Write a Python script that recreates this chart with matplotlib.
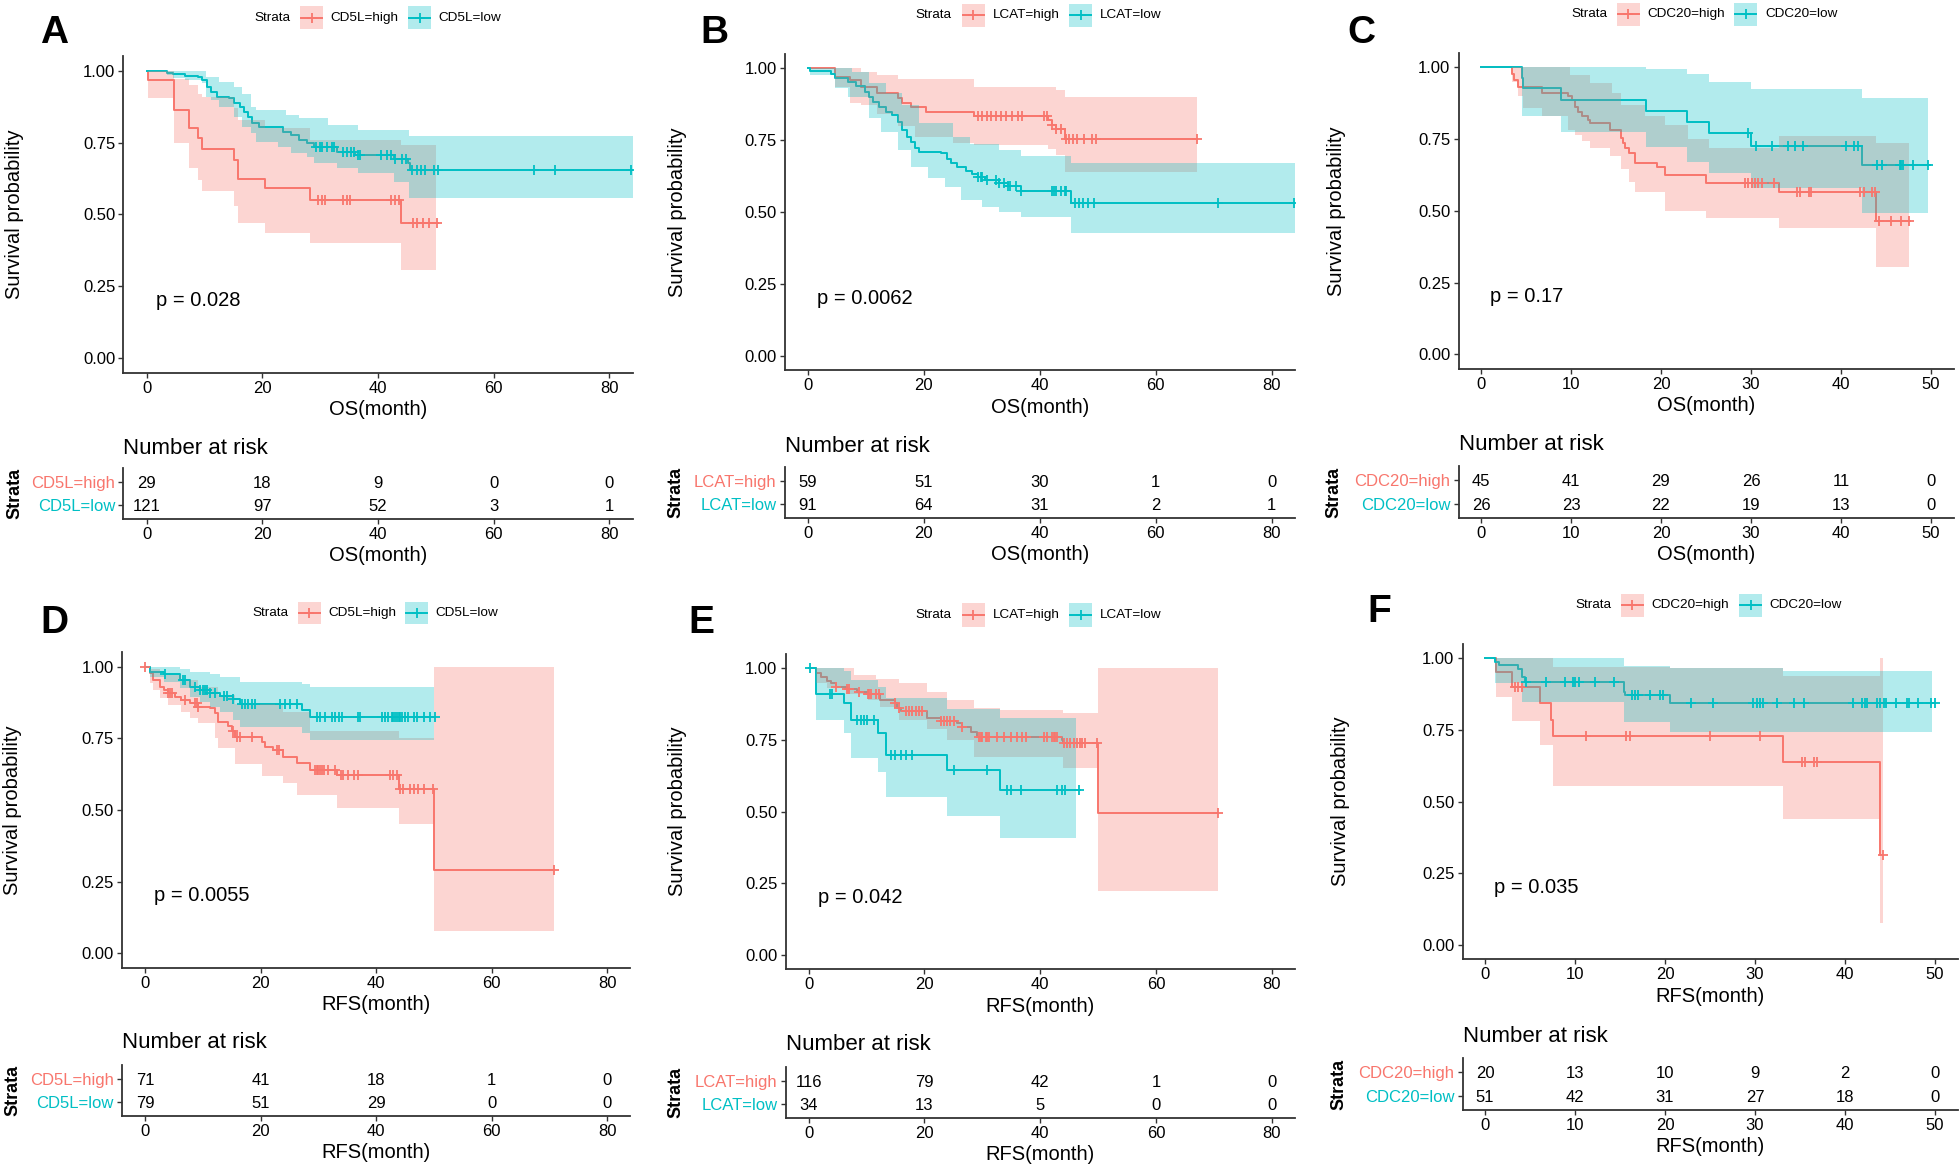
import numpy as np
import matplotlib
matplotlib.use('Agg')
import matplotlib.pyplot as plt
from matplotlib.patches import Rectangle

plt.rcParams['font.family'] = ['Liberation Sans', 'DejaVu Sans']

# ------------------------------------------------------------------ data
# ---- Panel A (OS, CD5L)
A_strata = ['CD5L=high', 'CD5L=low']
A_pval = 'p = 0.028'
A_xlabel = 'OS(month)'
A_hi_t = [0, 0.3, 4.7, 7.4, 8.9, 9.5, 15.1, 15.8, 20.5, 28.3, 44.0]
A_hi_s = [1.0, 0.966, 0.862, 0.800, 0.765, 0.728, 0.690, 0.623, 0.591, 0.550, 0.472]
A_hi_end = 50.3
A_hi_cens = [29.7, 30.3, 30.8, 34.0, 34.7, 35.2, 42.3, 43.0, 43.6, 46.0, 46.7, 47.8, 48.9, 50.2]
A_hi_ci_t = [0, 0.3, 4.7, 7.4, 8.9, 9.5, 15.1, 15.8, 20.5, 28.3, 44.0]
A_hi_ci_lo = [1.0, 0.904, 0.747, 0.660, 0.620, 0.583, 0.530, 0.472, 0.435, 0.400, 0.307]
A_hi_ci_hi = [1.0, 1.0, 0.970, 0.950, 0.920, 0.910, 0.870, 0.830, 0.800, 0.760, 0.740]
A_hi_ci_end = 50.0
A_lo_t = [0, 3.6, 4.5, 6.7, 8.9, 9.6, 10.5, 11.1, 12.1, 14.3, 15.1, 16.1, 16.9, 17.6, 18.3, 19.4,
          23.6, 24.9, 26.3, 27.8, 28.9, 32.9, 36.1, 42.7, 45.1, 45.6]
A_lo_s = [1.0, 0.993, 0.988, 0.981, 0.977, 0.968, 0.942, 0.927, 0.910, 0.904, 0.886, 0.875, 0.857,
          0.840, 0.817, 0.805, 0.788, 0.776, 0.759, 0.747, 0.736, 0.718, 0.707, 0.692, 0.680, 0.655]
A_lo_end = 84.0
A_lo_cens = [29.2, 30.0, 30.3, 31.1, 32.1, 32.4, 33.9, 34.7, 35.4, 35.8, 36.5, 36.9, 40.5, 41.6,
             42.3, 43.0, 44.1, 44.8, 45.9, 46.7, 47.4, 48.1, 49.6, 50.3, 67.0, 70.6, 83.8]
A_lo_ci_t = [0, 3.6, 4.5, 6.7, 9.6, 10.3, 11.1, 12.5, 15.1, 16.5, 18.0, 19.0, 22.7, 24.1, 24.9,
             26.3, 27.8, 28.9, 31.4, 32.9, 36.5, 42.7, 45.4]
A_lo_ci_lo = [1.0, 0.985, 0.975, 0.967, 0.956, 0.910, 0.898, 0.875, 0.840, 0.805, 0.782, 0.753,
              0.736, 0.736, 0.713, 0.713, 0.700, 0.678, 0.678, 0.660, 0.643, 0.614, 0.556]
A_lo_ci_hi = [1.0, 1.0, 1.0, 1.0, 1.0, 0.977, 0.977, 0.960, 0.945, 0.920, 0.875, 0.863, 0.863,
              0.846, 0.846, 0.834, 0.834, 0.834, 0.810, 0.810, 0.794, 0.794, 0.773]
A_lo_ci_end = 84.0
A_risk_t = [0, 20, 40, 60, 80]
A_risk_hi = [29, 18, 9, 0, 0]
A_risk_lo = [121, 97, 52, 3, 1]

# ---- Panel B (OS, LCAT)
B_strata = ['LCAT=high', 'LCAT=low']
B_pval = 'p = 0.0062'
B_xlabel = 'OS(month)'
B_hi_t = [0, 4.7, 7.3, 9.1, 12.0, 15.6, 16.3, 17.8, 20.3, 28.7, 41.4, 42.1, 42.8, 44.3]
B_hi_s = [1.0, 0.971, 0.959, 0.934, 0.913, 0.896, 0.878, 0.864, 0.849, 0.834, 0.820, 0.803, 0.788, 0.753]
B_hi_end = 67.2
B_hi_cens = [29.4, 30.1, 30.9, 31.6, 32.5, 33.4, 34.1, 35.2, 36.3, 37.0, 40.7, 41.2, 42.1, 42.8,
             43.6, 44.6, 45.0, 45.7, 46.5, 47.6, 49.0, 49.7, 67.2]
B_hi_ci_t = [0, 4.7, 7.3, 9.1, 12.0, 15.6, 18.5, 25.0, 28.7, 41.4, 42.8, 44.3]
B_hi_ci_lo = [1.0, 0.936, 0.878, 0.873, 0.840, 0.800, 0.762, 0.739, 0.735, 0.720, 0.699, 0.640]
B_hi_ci_hi = [1.0, 1.0, 1.0, 0.988, 0.977, 0.962, 0.962, 0.962, 0.934, 0.934, 0.925, 0.900]
B_hi_ci_end = 67.2
B_lo_t = [0, 0.4, 4.0, 4.7, 6.9, 8.3, 9.8, 10.5, 11.3, 12.3, 13.4, 14.5, 15.6, 16.3, 17.1, 17.8,
          18.5, 19.2, 22.9, 24.0, 24.7, 25.8, 27.2, 28.3, 29.4, 30.5, 33.0, 34.5, 36.7, 45.4]
B_lo_s = [1.0, 0.991, 0.980, 0.965, 0.954, 0.939, 0.919, 0.901, 0.884, 0.867, 0.849, 0.838, 0.815,
          0.786, 0.762, 0.745, 0.722, 0.710, 0.705, 0.684, 0.670, 0.658, 0.644, 0.632, 0.621, 0.612,
          0.600, 0.591, 0.575, 0.533]
B_lo_end = 84.0
B_lo_cens = [29.4, 29.8, 30.1, 30.9, 32.5, 33.0, 33.8, 34.5, 34.8, 35.9, 36.7, 42.1, 42.5, 42.8,
             43.6, 44.3, 44.6, 46.1, 46.8, 47.5, 48.3, 49.4, 70.8, 83.8]
B_lo_ci_t = [0, 0.4, 4.7, 6.9, 7.6, 10.5, 12.7, 13.4, 15.6, 16.3, 17.8, 19.2, 20.7, 23.6, 25.0,
             26.5, 27.9, 30.1, 33.0, 36.7, 45.4]
B_lo_ci_lo = [1.0, 0.977, 0.930, 0.900, 0.900, 0.826, 0.780, 0.780, 0.716, 0.716, 0.658, 0.658,
              0.618, 0.589, 0.589, 0.542, 0.542, 0.519, 0.502, 0.482, 0.426]
B_lo_ci_hi = [1.0, 1.0, 1.0, 1.0, 0.988, 0.948, 0.948, 0.913, 0.913, 0.873, 0.873, 0.809, 0.809,
              0.809, 0.762, 0.762, 0.737, 0.737, 0.716, 0.695, 0.672]
B_lo_ci_end = 84.0
B_risk_t = [0, 20, 40, 60, 80]
B_risk_hi = [59, 51, 30, 1, 0]
B_risk_lo = [91, 64, 31, 2, 1]

# ---- Panel C (OS, CDC20)
C_strata = ['CDC20=high', 'CDC20=low']
C_pval = 'p = 0.17'
C_xlabel = 'OS(month)'
C_hi_t = [0, 3.4, 3.7, 4.1, 6.8, 9.7, 10.1, 10.4, 10.8, 11.2, 11.9, 12.1, 14.3, 15.6, 15.8, 16.0,
          16.4, 17.1, 19.5, 20.4, 25.0, 33.1, 43.9]
C_hi_s = [1.0, 0.978, 0.956, 0.933, 0.912, 0.900, 0.886, 0.863, 0.846, 0.830, 0.816, 0.805, 0.782,
          0.753, 0.735, 0.718, 0.700, 0.668, 0.654, 0.625, 0.598, 0.567, 0.466]
C_hi_end = 47.7
C_hi_cens = [29.3, 29.7, 30.1, 30.4, 30.8, 31.2, 32.5, 35.1, 35.4, 36.4, 36.7, 42.1, 42.5, 43.4,
             43.8, 44.2, 45.6, 46.7, 47.6]
C_hi_ci_t = [0, 3.4, 4.1, 4.7, 6.8, 9.7, 9.9, 10.4, 11.2, 12.1, 14.3, 14.5, 15.6, 16.4, 17.1,
             18.2, 20.4, 23.0, 25.0, 25.3, 33.1, 43.9]
C_hi_ci_lo = [1.0, 0.95, 0.90, 0.86, 0.83, 0.78, 0.78, 0.765, 0.745, 0.72, 0.69, 0.69, 0.645, 0.60,
              0.565, 0.565, 0.50, 0.50, 0.475, 0.475, 0.44, 0.303]
C_hi_ci_hi = [1.0, 1.0, 1.0, 1.0, 1.0, 1.0, 0.973, 0.973, 0.973, 0.944, 0.944, 0.909, 0.87, 0.87,
              0.87, 0.83, 0.80, 0.75, 0.75, 0.72, 0.76, 0.735]
C_hi_ci_end = 47.6
C_lo_t = [0, 4.5, 4.7, 8.9, 18.3, 22.9, 25.3, 30.0, 42.3]
C_lo_s = [1.0, 0.962, 0.927, 0.886, 0.848, 0.811, 0.772, 0.727, 0.660]
C_lo_end = 49.9
C_lo_cens = [29.7, 30.6, 32.3, 34.1, 34.9, 35.8, 40.6, 41.4, 41.9, 44.0, 44.5, 46.6, 46.7, 46.9,
             48.0, 49.7]
C_lo_ci_t = [0, 4.5, 8.9, 18.3, 22.9, 25.3, 30.0, 42.3]
C_lo_ci_lo = [1.0, 0.83, 0.776, 0.724, 0.671, 0.631, 0.578, 0.491]
C_lo_ci_hi = [1.0, 1.0, 1.0, 0.993, 0.977, 0.95, 0.923, 0.894]
C_lo_ci_end = 49.7
C_risk_t = [0, 10, 20, 30, 40, 50]
C_risk_hi = [45, 41, 29, 26, 11, 0]
C_risk_lo = [26, 23, 22, 19, 13, 0]

# ---- Panel D (RFS, CD5L)
D_strata = ['CD5L=high', 'CD5L=low']
D_pval = 'p = 0.0055'
D_xlabel = 'RFS(month)'
D_hi_t = [0, 0.87, 1.44, 2.6, 3.2, 4.0, 5.2, 6.3, 7.8, 9.2, 11.3, 12.1, 12.7, 14.4, 15.0, 15.6,
          20.2, 20.8, 22.2, 23.9, 26.3, 28.6, 33.2, 43.9, 50.0]
D_hi_s = [1.0, 0.977, 0.953, 0.930, 0.919, 0.907, 0.893, 0.884, 0.872, 0.860, 0.855, 0.837, 0.808,
          0.793, 0.777, 0.756, 0.738, 0.721, 0.709, 0.684, 0.663, 0.640, 0.622, 0.572, 0.291]
D_hi_end = 70.8
D_hi_cens = [0.0, 4.0, 4.3, 4.6, 6.9, 8.7, 8.9, 9.2, 15.3, 15.9, 16.4, 18.5, 22.8, 23.1, 29.4,
             29.7, 30.0, 30.3, 30.6, 30.9, 31.7, 32.9, 34.0, 34.3, 35.2, 36.1, 36.9, 42.4, 43.0,
             43.6, 44.1, 44.7, 45.9, 46.5, 47.3, 48.2, 49.9, 70.8]
D_hi_ci_t = [0, 0.87, 1.44, 2.6, 4.0, 6.3, 7.8, 9.2, 12.1, 12.7, 15.6, 20.2, 23.9, 26.3, 28.6,
             33.2, 43.9, 50.0]
D_hi_ci_lo = [1.0, 0.942, 0.919, 0.890, 0.866, 0.843, 0.820, 0.802, 0.750, 0.715, 0.660, 0.619,
              0.593, 0.552, 0.552, 0.506, 0.450, 0.076]
D_hi_ci_hi = [1.0, 0.990, 0.990, 0.971, 0.971, 0.953, 0.953, 0.930, 0.930, 0.900, 0.870, 0.870,
              0.840, 0.840, 0.775, 0.775, 0.750, 1.0]
D_hi_ci_end = 70.8
D_lo_t = [0, 0.87, 3.2, 6.1, 7.8, 9.5, 11.3, 13.0, 15.3, 16.4, 27.1, 28.6]
D_lo_s = [1.0, 0.983, 0.973, 0.953, 0.930, 0.919, 0.907, 0.898, 0.886, 0.870, 0.849, 0.826]
D_lo_end = 50.2
D_lo_cens = [3.5, 6.6, 6.9, 8.7, 9.5, 10.1, 10.4, 10.7, 11.3, 12.1, 13.6, 14.1, 15.3, 16.7, 17.3,
             17.9, 18.5, 19.0, 23.4, 24.2, 25.1, 26.3, 29.7, 30.3, 31.2, 32.3, 32.9, 33.5, 34.1,
             36.9, 37.2, 41.0, 41.6, 42.1, 42.7, 43.0, 43.3, 43.6, 43.9, 44.1, 44.4, 45.0, 45.6,
             46.5, 47.0, 48.2, 49.3, 50.2]
D_lo_ci_t = [0, 0.87, 3.2, 6.1, 7.8, 9.5, 11.3, 13.0, 15.3, 16.4, 27.1, 28.6]
D_lo_ci_lo = [1.0, 0.965, 0.948, 0.924, 0.895, 0.878, 0.860, 0.843, 0.814, 0.791, 0.767, 0.744]
D_lo_ci_hi = [1.0, 1.0, 0.998, 0.990, 0.980, 0.980, 0.975, 0.965, 0.965, 0.948, 0.938, 0.928]
D_lo_ci_end = 50.0
D_risk_t = [0, 20, 40, 60, 80]
D_risk_hi = [71, 41, 18, 1, 0]
D_risk_lo = [79, 51, 29, 0, 0]

# ---- Panel E (RFS, LCAT)
E_strata = ['LCAT=high', 'LCAT=low']
E_pval = 'p = 0.042'
E_xlabel = 'RFS(month)'
E_hi_t = [0, 1.24, 2.1, 3.25, 3.83, 4.7, 6.7, 8.4, 10.2, 12.4, 15.0, 15.3, 15.9, 20.5, 22.8, 25.7,
          26.5, 28.0, 29.1, 43.8, 44.0, 49.9]
E_hi_s = [1.0, 0.983, 0.971, 0.957, 0.948, 0.936, 0.927, 0.919, 0.910, 0.890, 0.878, 0.860, 0.851,
          0.826, 0.816, 0.808, 0.794, 0.779, 0.762, 0.750, 0.738, 0.494]
E_hi_end = 70.8
E_hi_cens = [4.7, 6.7, 7.0, 8.7, 10.2, 10.4, 10.7, 11.6, 12.2, 15.0, 15.6, 16.8, 17.3, 17.9, 18.5,
             19.1, 19.6, 22.8, 23.4, 23.9, 24.5, 25.1, 26.5, 29.4, 29.7, 30.0, 30.6, 30.8, 31.1,
             32.6, 33.7, 34.9, 36.0, 36.9, 37.5, 40.6, 41.2, 42.1, 42.3, 42.6, 42.9, 44.1, 44.6,
             45.2, 45.8, 46.4, 46.9, 47.2, 47.8, 49.8, 70.8]
E_hi_ci_t = [0, 1.24, 3.25, 6.7, 7.8, 10.2, 11.6, 12.4, 15.6, 20.5, 23.9, 28.5, 33.1, 44.0, 49.9]
E_hi_ci_lo = [1.0, 0.95, 0.93, 0.91, 0.91, 0.89, 0.89, 0.866, 0.82, 0.79, 0.75, 0.692, 0.692,
              0.653, 0.224]
E_hi_ci_hi = [1.0, 1.0, 1.0, 1.0, 0.977, 0.977, 0.962, 0.962, 0.948, 0.919, 0.89, 0.86, 0.855,
              0.843, 1.0]
E_hi_ci_end = 70.8
E_lo_t = [0, 1.24, 6.1, 7.3, 11.9, 13.3, 23.9, 33.1]
E_lo_s = [1.0, 0.912, 0.878, 0.820, 0.773, 0.698, 0.645, 0.576]
E_lo_end = 46.8
E_lo_cens = [0.3, 3.7, 4.1, 8.4, 9.0, 9.6, 10.1, 11.3, 14.2, 15.0, 15.9, 16.8, 17.9, 25.1, 30.8,
             34.3, 34.9, 36.6, 42.9, 43.8, 44.3, 46.7]
E_lo_ci_t = [0, 1.24, 6.1, 7.3, 11.9, 13.3, 23.9, 33.1]
E_lo_ci_lo = [1.0, 0.82, 0.773, 0.686, 0.64, 0.55, 0.485, 0.407]
E_lo_ci_hi = [1.0, 1.0, 0.99, 0.96, 0.936, 0.895, 0.857, 0.826]
E_lo_ci_end = 46.2
E_risk_t = [0, 20, 40, 60, 80]
E_risk_hi = [116, 79, 42, 1, 0]
E_risk_lo = [34, 13, 5, 0, 0]

# ---- Panel F (RFS, CDC20)
F_strata = ['CDC20=high', 'CDC20=low']
F_pval = 'p = 0.035'
F_xlabel = 'RFS(month)'
F_hi_t = [0, 1.2, 3.0, 6.1, 7.3, 7.5, 33.1, 43.9]
F_hi_s = [1.0, 0.951, 0.901, 0.845, 0.785, 0.729, 0.640, 0.314]
F_hi_end = 44.2
F_hi_cens = [3.3, 3.7, 4.1, 11.2, 15.7, 16.1, 25.0, 30.6, 35.2, 35.6, 36.5, 36.9, 44.2]
F_hi_ci_t = [0, 1.2, 3.0, 6.1, 7.5, 20.6, 33.1, 43.9]
F_hi_ci_lo = [1.0, 0.864, 0.781, 0.698, 0.555, 0.555, 0.438, 0.076]
F_hi_ci_hi = [1.0, 1.0, 1.0, 1.0, 0.97, 0.965, 0.94, 1.0]
F_hi_ci_end = 44.2
F_lo_t = [0, 1.1, 1.6, 3.7, 4.1, 4.4, 15.4, 15.6, 20.6]
F_lo_s = [1.0, 0.988, 0.977, 0.962, 0.935, 0.919, 0.883, 0.872, 0.843]
F_lo_end = 50.0
F_lo_cens = [4.6, 6.8, 8.9, 9.8, 10.0, 10.4, 12.2, 14.3, 16.3, 16.7, 17.0, 18.3, 19.4, 19.8, 22.9,
             25.3, 29.8, 30.2, 30.6, 30.9, 32.4, 34.3, 35.4, 40.9, 41.9, 42.2, 42.4, 43.5, 43.9,
             44.3, 44.6, 45.7, 46.9, 47.1, 48.1, 49.6, 50.0]
F_lo_ci_t = [0, 1.1, 4.1, 15.4, 20.6, 33.1]
F_lo_ci_lo = [1.0, 0.913, 0.849, 0.779, 0.744, 0.744]
F_lo_ci_hi = [1.0, 1.0, 1.0, 0.973, 0.965, 0.957]
F_lo_ci_end = 49.7
F_risk_t = [0, 10, 20, 30, 40, 50]
F_risk_hi = [20, 13, 10, 9, 2, 0]
F_risk_lo = [51, 42, 31, 27, 18, 0]

# ------------------------------------------------------------------ style / layout
W, H = 1960, 1171
RED = '#F8766D'
CYAN = '#00BFC4'
AXC = '#333333'

fig = plt.figure(figsize=(W / 100, H / 100), dpi=100)
fig.patch.set_facecolor('white')

ov = fig.add_axes([0, 0, 1, 1])
ov.set_xlim(0, W)
ov.set_ylim(H, 0)
ov.axis('off')


def px_axes(l, t, r, b):
    return fig.add_axes([l / W, 1 - b / H, (r - l) / W, (b - t) / H])


def style(ax):
    for s in ['top', 'right']:
        ax.spines[s].set_visible(False)
    for s in ['left', 'bottom']:
        ax.spines[s].set_color(AXC)
        ax.spines[s].set_linewidth(1.3)
    ax.tick_params(direction='out', length=3.3, width=1.0, color=AXC,
                   labelsize=12, labelcolor='black', pad=2.5)


def step_at(t, s, x):
    idx = np.searchsorted(np.asarray(t), np.asarray(x), side='right') - 1
    return np.asarray(s)[idx]


def draw_curve(ax, t, s, end, cens, ci_t, ci_lo, ci_hi, ci_end, color):
    tt = list(t) + [end]
    ss = list(s) + [s[-1]]
    ax.step(tt, ss, where='post', color=color, lw=1.4, zorder=2)
    bt = list(ci_t) + [ci_end]
    ax.fill_between(bt, list(ci_lo) + [ci_lo[-1]], list(ci_hi) + [ci_hi[-1]],
                    step='post', color=color, alpha=0.3, lw=0, zorder=3)
    cy = step_at(t, s, cens)
    ax.plot(cens, cy, ls='none', marker='+', ms=7.5, mew=1.3, color=color, zorder=4)


def curve_args(p, g):
    G = globals()
    return [G[f'{p}_{g}_{k}'] for k in ['t', 's', 'end', 'cens', 'ci_t', 'ci_lo', 'ci_hi', 'ci_end']]


panels = [
    dict(p='A', letter=(40, 43), main=(123.4, 56.3, 632.6, 372.7), table=(123.4, 468, 632.6, 519),
         xmax=80, ylab_x=15, strata_x=15, nar_y=449, px=1.6,
         leg=(254.6, 6, 29.3, 300, 330, 408, 438)),
    dict(p='B', letter=(700, 42.7), main=(784.6, 53.9, 1294.9, 370.4), table=(784.6, 467, 1294.9, 518),
         xmax=80, ylab_x=677, strata_x=676, nar_y=446, px=1.6,
         leg=(915, 4, 26.7, 961.5, 993, 1069, 1099.5)),
    dict(p='C', letter=(1347, 42.7), main=(1458.5, 53, 1953.5, 368.7), table=(1458.5, 466, 1953.5, 518),
         xmax=50, ylab_x=1336, strata_x=1334, nar_y=445, px=1.0,
         leg=(1571.5, 2.7, 26, 1616.5, 1647, 1734, 1765)),
    dict(p='D', letter=(40, 633), main=(122, 652.3, 630.3, 967.6), table=(122, 1065, 630.3, 1116),
         xmax=80, ylab_x=13, strata_x=13, nar_y=1043, px=1.6,
         leg=(252.5, 601.7, 624.3, 297.6, 328, 405, 435.6)),
    dict(p='E', letter=(688, 633), main=(785.5, 654, 1294.9, 969.3), table=(785.5, 1067, 1294.9, 1118),
         xmax=80, ylab_x=677, strata_x=676, nar_y=1045, px=1.6,
         leg=(915, 603.3, 626.7, 961.5, 993, 1069, 1099.5)),
    dict(p='F', letter=(1367, 621.7), main=(1462.5, 644, 1957.5, 959.3), table=(1462.5, 1058, 1957.5, 1110),
         xmax=50, ylab_x=1340, strata_x=1339, nar_y=1036, px=1.0,
         leg=(1575.7, 594, 616.7, 1620.7, 1651.5, 1739, 1769)),
]

for P in panels:
    p = P['p']
    G = globals()
    strata = G[f'{p}_strata']
    xlabel = G[f'{p}_xlabel']
    xmax = P['xmax']
    xlim = (-0.05 * xmax, 1.05 * xmax)
    xticks = G[f'{p}_risk_t']

    # ---------------- main KM plot
    l, t, r, b = P['main']
    ax = px_axes(l, t, r, b)
    style(ax)
    draw_curve(ax, *curve_args(p, 'hi'), RED)
    draw_curve(ax, *curve_args(p, 'lo'), CYAN)
    ax.set_xlim(*xlim)
    ax.set_ylim(-0.05, 1.05)
    ax.set_yticks([0, 0.25, 0.5, 0.75, 1.0])
    ax.set_yticklabels(['0.00', '0.25', '0.50', '0.75', '1.00'])
    ax.set_xticks(xticks)
    ax.set_xlabel(xlabel, fontsize=14.5, labelpad=3)
    ax.text(P['px'], 0.2, G[f'{p}_pval'], ha='left', va='center', fontsize=14.5)
    ov.text(P['ylab_x'], (t + b) / 2, 'Survival probability', rotation=90,
            ha='center', va='center', fontsize=14.5)

    # ---------------- risk table
    l2, t2, r2, b2 = P['table']
    tb = px_axes(l2, t2, r2, b2)
    style(tb)
    tb.set_xlim(*xlim)
    tb.set_ylim(0.4, 2.6)
    tb.set_xticks(xticks)
    tb.set_yticks([2, 1])
    tb.set_yticklabels(strata, fontsize=12)
    for lab, c in zip(tb.get_yticklabels(), [RED, CYAN]):
        lab.set_color(c)
    for x, v in zip(xticks, G[f'{p}_risk_hi']):
        tb.text(x, 2, str(v), ha='center', va='center_baseline', fontsize=12)
    for x, v in zip(xticks, G[f'{p}_risk_lo']):
        tb.text(x, 1, str(v), ha='center', va='center_baseline', fontsize=12)
    tb.set_xlabel(xlabel, fontsize=14.5, labelpad=3)
    ov.text(l2, P['nar_y'], 'Number at risk', ha='left', va='center', fontsize=16)
    ov.text(P['strata_x'], (t2 + b2) / 2, 'Strata', rotation=90, ha='center', va='center',
            fontsize=13, fontweight='bold')

    # ---------------- panel letter
    ov.text(P['letter'][0], P['letter'][1], p, ha='left', va='baseline',
            fontsize=28, fontweight='bold')

    # ---------------- legend
    sx, y0, y1, b1, t1, b2x, t2x = P['leg']
    yc = (y0 + y1) / 2
    ov.text(sx, yc, 'Strata', ha='left', va='center', fontsize=9.7)
    for bx, tx, col, lab in [(b1, t1, RED, strata[0]), (b2x, t2x, CYAN, strata[1])]:
        ov.add_patch(Rectangle((bx, y0), 23, y1 - y0, facecolor=col, alpha=0.3, lw=0))
        ov.plot([bx + 1, bx + 22], [yc, yc], color=col, lw=1.4)
        ov.plot([bx + 11.5], [yc], marker='+', ms=7.5, mew=1.3, color=col)
        ov.text(tx, yc, lab, ha='left', va='center', fontsize=9.7)

fig.savefig('out.png', dpi=100, facecolor='white')
